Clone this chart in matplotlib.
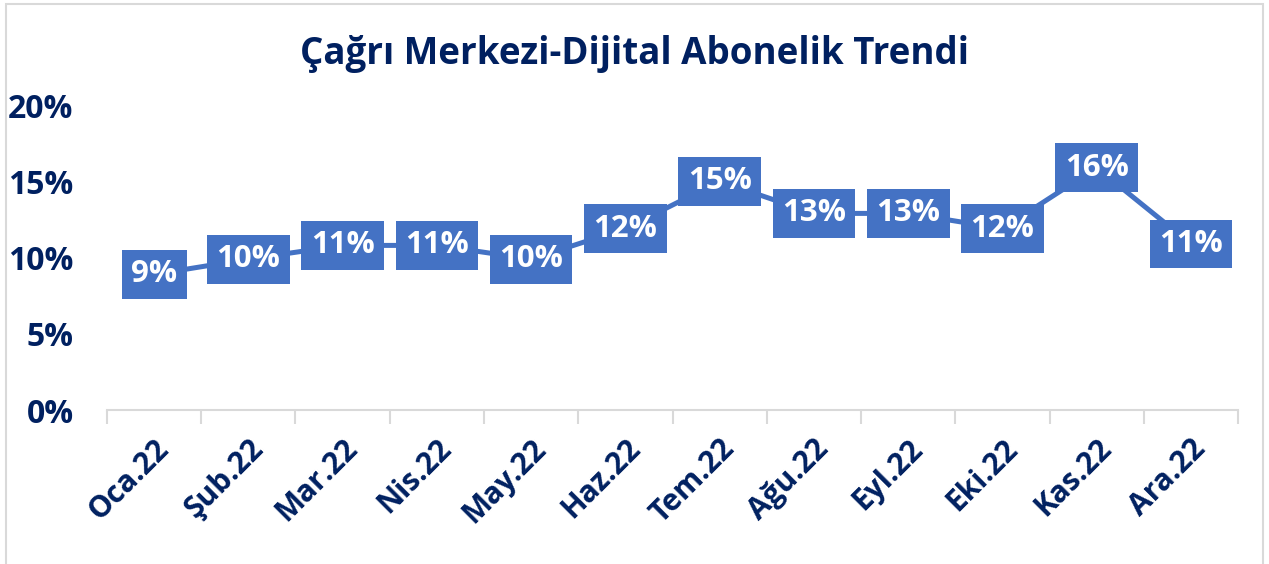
import matplotlib
matplotlib.use('Agg')
import matplotlib.pyplot as plt
from matplotlib.patches import Rectangle
from matplotlib.ticker import PercentFormatter, FixedLocator

# Monthly share of digital subscriptions from the call centre
months = ['Oca.22', 'Şub.22', 'Mar.22', 'Nis.22', 'May.22', 'Haz.22',
          'Tem.22', 'Ağu.22', 'Eyl.22', 'Eki.22', 'Kas.22', 'Ara.22']
share = [0.089, 0.099, 0.108, 0.108, 0.099, 0.119,
         0.150, 0.129, 0.129, 0.119, 0.159, 0.109]
title = 'Çağrı Merkezi-Dijital Abonelik Trendi'

navy = '#002060'
blue = '#4472C4'
grey = '#D9D9D9'

plt.rcParams['font.family'] = ['Open Sans', 'DejaVu Sans']
plt.rcParams['font.weight'] = 'bold'

fig = plt.figure(figsize=(12.69, 5.64), dpi=100)
ax = fig.add_axes([0.0843, 0.273, 0.8913, 0.5405])

x = list(range(len(months)))
ax.plot(x, share, color=blue, lw=3.6, solid_joinstyle='round', zorder=2)
for xi, v in zip(x, share):
    ax.text(xi, v, f'{v:.0%}', ha='center', va='center', color='white',
            fontsize=22.5, fontweight='bold', zorder=3,
            bbox=dict(boxstyle='square,pad=0.3', fc=blue, ec='none'))

ax.set_xlim(-0.5, len(months) - 0.5)
ax.set_ylim(0, 0.2)
ax.set_yticks([0, 0.05, 0.10, 0.15, 0.20])
ax.yaxis.set_major_formatter(PercentFormatter(1.0, decimals=0))
ax.tick_params(axis='y', length=0, pad=24, labelsize=23, labelcolor=navy)

ax.set_xticks(x)
ax.set_xticklabels(months, rotation=45, ha='right', va='top',
                   rotation_mode='anchor', fontsize=21.5, color=navy)
ax.xaxis.set_minor_locator(FixedLocator([i - 0.5 for i in range(len(months) + 1)]))
ax.tick_params(axis='x', which='major', length=0, pad=17)
ax.tick_params(axis='x', which='minor', length=10, width=1.5, color=grey)

for side in ['top', 'right', 'left']:
    ax.spines[side].set_visible(False)
ax.spines['bottom'].set_color(grey)
ax.spines['bottom'].set_linewidth(1.5)

fig.text(0.5, 0.905, title, ha='center', va='center', fontsize=26.5,
         fontweight='bold', color=navy)

fig.patches.append(Rectangle((6 / 1269, -0.05), 1257 / 1269, 1.05 - 4 / 564,
                             transform=fig.transFigure, fill=False,
                             ec=grey, lw=1.5))

fig.savefig('out.png', dpi=100)
